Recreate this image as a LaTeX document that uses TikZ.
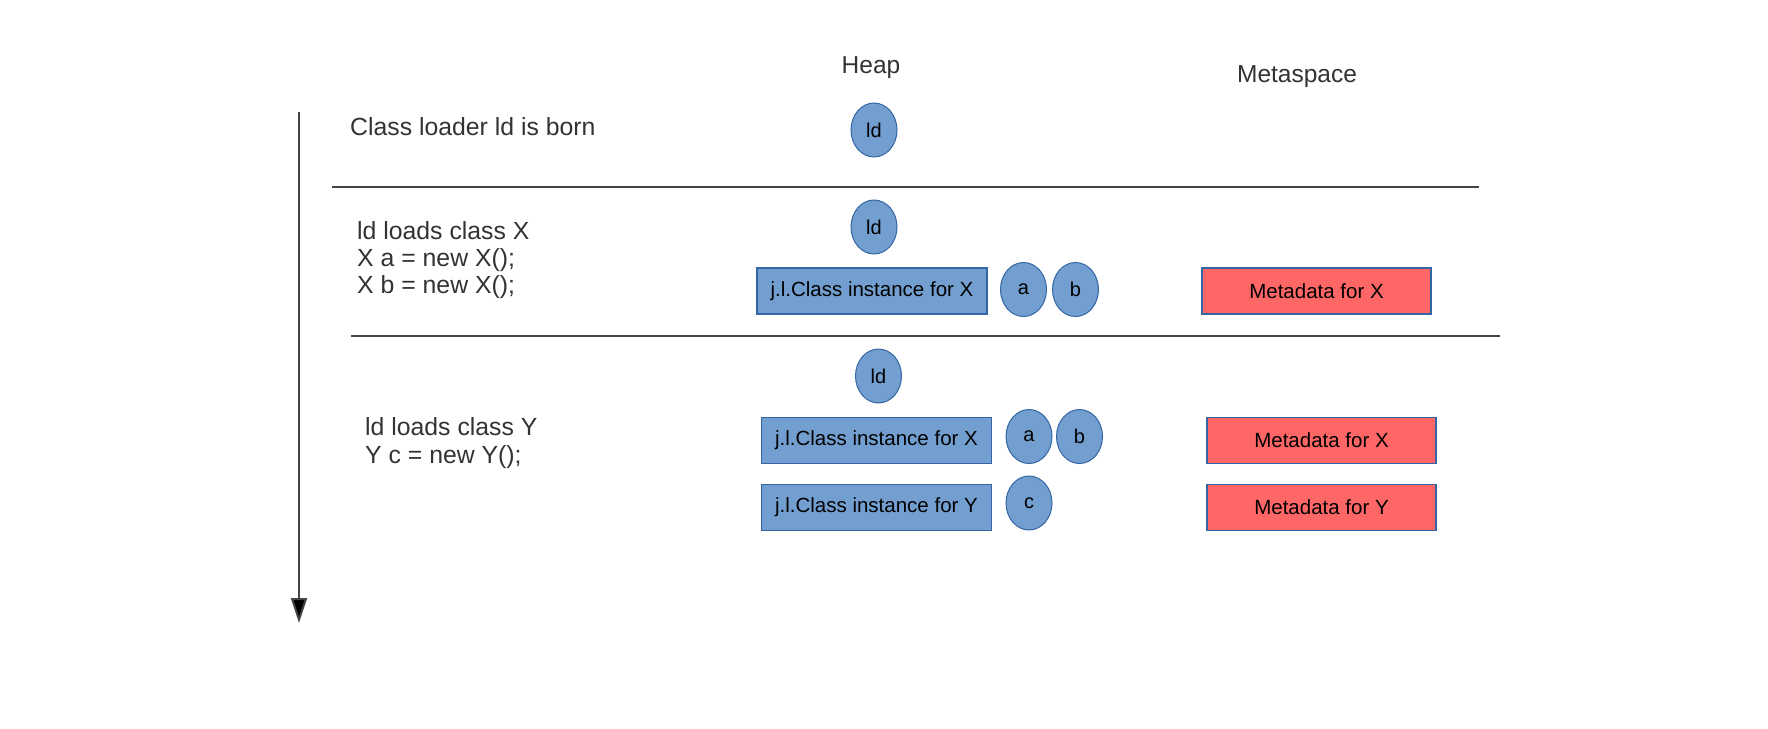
\documentclass[tikz,border=0pt]{standalone}
\usepackage{fontspec}
\setmainfont{Liberation Sans}
\usetikzlibrary{shapes.geometric,arrows.meta}
\definecolor{objblue}{HTML}{729FCF}
\definecolor{objborder}{HTML}{3465A4}
\definecolor{metared}{HTML}{FF6666}
\definecolor{txtgray}{HTML}{333333}
\definecolor{linegray}{HTML}{444444}
\tikzset{
  obj/.style={ellipse, draw=objborder, fill=objblue, line width=1pt, minimum width=46pt, minimum height=54pt, inner sep=0pt, font=\fontsize{20}{22}\selectfont, text=black},
  clsbox/.style={rectangle, draw=objborder, fill=objblue, line width=1.2pt, minimum width=230pt, minimum height=46pt, inner sep=0pt, font=\fontsize{20.5}{22}\selectfont, text=black},
  metabox/.style={rectangle, draw=objborder, fill=metared, line width=1.2pt, minimum width=229pt, minimum height=46pt, inner sep=0pt, font=\fontsize{20.5}{22}\selectfont, text=black},
  steptext/.style={anchor=base west, inner sep=0pt, font=\fontsize{24.8}{27}\selectfont, text=txtgray},
  coltitle/.style={anchor=base, inner sep=0pt, font=\fontsize{24.5}{27}\selectfont, text=txtgray},
  sepline/.style={draw=linegray, line width=2pt},
}
\begin{document}
\begin{tikzpicture}[x=1pt,y=-1pt]
\useasboundingbox (0,0) rectangle (1768,728);
% column titles
\node[coltitle] (heap) at (871,73) {Heap};
\node[coltitle] (meta) at (1297,82) {Metaspace};
% timeline
\coordinate (tlstart) at (299,112);
\coordinate (tlend) at (299,623);
\draw[draw=linegray, line width=2pt, -{Triangle[width=16pt,length=25pt,fill=black]}] (tlstart) -- (tlend);
% separators
\coordinate (s1a) at (332,187);
\coordinate (s1b) at (1479,187);
\coordinate (s2a) at (351,336);
\coordinate (s2b) at (1500,336);
\draw[sepline] (s1a) -- (s1b);
\draw[sepline] (s2a) -- (s2b);
% step 1
\node[steptext] (t1) at (350,135) {Class loader ld is born};
\node[obj] (ld1) at (874,130) {ld};
% step 2
\node[steptext] (t2a) at (357,239) {ld loads class X};
\node[steptext] (t2b) at (357,266) {X a = new X();};
\node[steptext] (t2c) at (357,293) {X b = new X();};
\node[obj] (ld2) at (874,227) {ld};
\node[clsbox] (cx2) at (872,291) {j.l.Class instance for X};
\node[obj] (a2) at (1023.5,289.5) {a};
\node[obj] (b2) at (1075.5,289.5) {b};
\node[metabox] (mx2) at (1316.5,291) {Metadata for X};
% step 3
\node[steptext] (t3a) at (365,435) {ld loads class Y};
\node[steptext] (t3b) at (365,463) {Y c = new Y();};
\node[obj] (ld3) at (878.5,376) {ld};
\node[clsbox] (cx3) at (876.5,440.5) {j.l.Class instance for X};
\node[obj] (a3) at (1029,436.5) {a};
\node[obj] (b3) at (1079.5,436.5) {b};
\node[clsbox] (cy3) at (876.5,507.5) {j.l.Class instance for Y};
\node[obj] (c3) at (1029,503) {c};
\node[metabox] (mx3) at (1321.5,440.5) {Metadata for X};
\node[metabox] (my3) at (1321.5,507.5) {Metadata for Y};
\end{tikzpicture}
\end{document}
